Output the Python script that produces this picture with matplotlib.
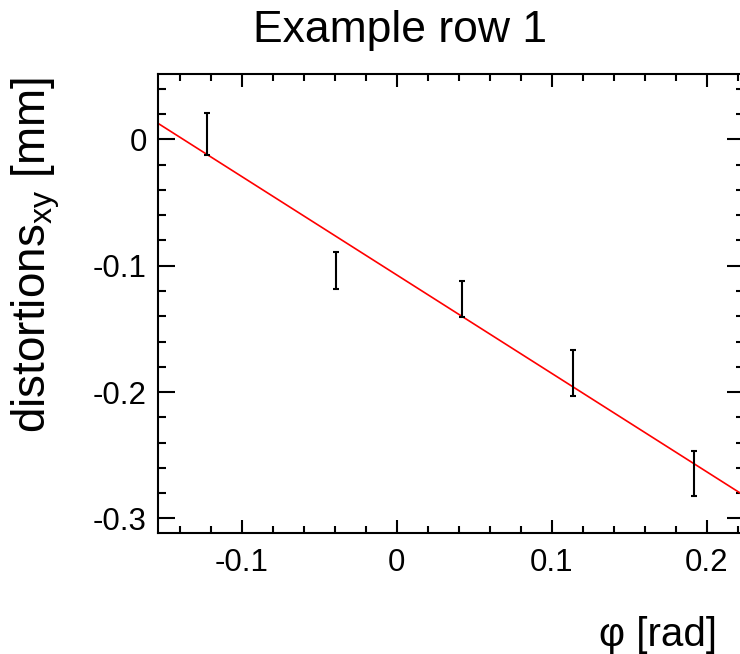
import numpy as np
import matplotlib
matplotlib.use('Agg')
import matplotlib.pyplot as plt
from matplotlib.ticker import MultipleLocator

plt.rcParams['font.family'] = ['Liberation Sans', 'DejaVu Sans']
plt.rcParams['mathtext.fontset'] = 'custom'
plt.rcParams['mathtext.rm'] = 'Liberation Sans'
plt.rcParams['mathtext.it'] = 'Liberation Sans'
plt.rcParams['mathtext.default'] = 'regular'

# dados
phi = [-0.1222, -0.0394, 0.0419, 0.1140, 0.1918]
dist = [0.0042, -0.1038, -0.1263, -0.1848, -0.2644]
dist_err = [0.0169, 0.0148, 0.0142, 0.0180, 0.0178]

# ajuste linear
fit_slope = -0.779
fit_intercept = -0.1073

xlim = (-0.154, 0.224)
ylim = (-0.3115, 0.0521)

fig = plt.figure(figsize=(7.4, 6.54), dpi=100)
ax = fig.add_axes([158 / 740, 121 / 654, 586 / 740, 459.5 / 654])

# linha do ajuste
xs = np.array(xlim)
ax.plot(xs, fit_slope * xs + fit_intercept, color='red', lw=1.2)

# pontos com barras de erro
ax.errorbar(phi, dist, yerr=dist_err, fmt='none', ecolor='black',
            elinewidth=1.5, capsize=2.5, capthick=1.5)

ax.set_xlim(*xlim)
ax.set_ylim(*ylim)

ax.xaxis.set_major_locator(MultipleLocator(0.1))
ax.xaxis.set_minor_locator(MultipleLocator(0.02))
ax.yaxis.set_major_locator(MultipleLocator(0.1))
ax.yaxis.set_minor_locator(MultipleLocator(0.02))
ax.xaxis.set_major_formatter(plt.FuncFormatter(lambda v, p: '%g' % round(v, 3)))
ax.yaxis.set_major_formatter(plt.FuncFormatter(lambda v, p: '%g' % round(v, 3)))

ax.tick_params(axis='both', which='both', direction='in', top=True, right=True,
               width=1.5, labelsize=22.5)
ax.tick_params(axis='x', which='major', length=9.5, pad=11)
ax.tick_params(axis='x', which='minor', length=5)
ax.tick_params(axis='y', which='major', length=12.5, pad=8)
ax.tick_params(axis='y', which='minor', length=6)
for s in ax.spines.values():
    s.set_linewidth(1.5)

fig.text(400 / 740, 1 - 42 / 654, 'Example row 1', fontsize=32, ha='center', va='baseline')
fig.text(36 / 740, 1 - 77 / 654, r'distortions$_{xy}$ [mm]', fontsize=33,
         rotation=90, ha='center', va='top')
fig.text(717 / 740, 1 - 646 / 654, 'φ [rad]', fontsize=29, ha='right', va='baseline')

fig.savefig('out.png', dpi=100)
